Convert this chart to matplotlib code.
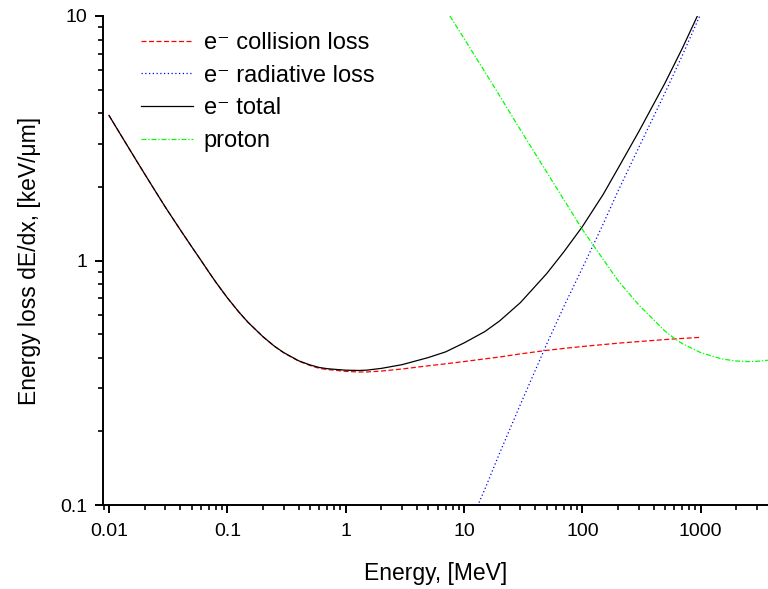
import matplotlib
matplotlib.use("Agg")
import matplotlib.pyplot as plt
from matplotlib.ticker import FixedLocator, FixedFormatter, LogLocator, NullFormatter

plt.rcParams["font.family"] = ["Liberation Sans", "DejaVu Sans"]

# electron energy grid, MeV
e_energy = [0.01, 0.0125, 0.015, 0.0175, 0.02, 0.025, 0.03, 0.04, 0.05, 0.06,
            0.07, 0.08, 0.1, 0.125, 0.15, 0.2, 0.25, 0.3, 0.4, 0.5, 0.6, 0.7,
            0.8, 1, 1.3, 1.5, 2, 3, 5, 7, 10, 15, 20, 30, 50, 70, 100, 150,
            200, 300, 500, 700, 1000]
# collision loss, keV/um
e_collision = [3.92, 3.28, 2.837, 2.511, 2.261, 1.90, 1.651, 1.336, 1.138, 1.0,
               0.895, 0.815, 0.704, 0.616, 0.558, 0.488, 0.446, 0.419, 0.388,
               0.372, 0.362, 0.358, 0.356, 0.352, 0.350, 0.350, 0.353, 0.360,
               0.371, 0.378, 0.386, 0.396, 0.403, 0.415, 0.429, 0.437, 0.445,
               0.453, 0.459, 0.466, 0.475, 0.480, 0.485]
# total loss, keV/um
e_total = [3.92, 3.28, 2.837, 2.511, 2.261, 1.90, 1.651, 1.336, 1.138, 1.0,
           0.895, 0.815, 0.704, 0.616, 0.558, 0.488, 0.446, 0.420, 0.389,
           0.374, 0.365, 0.361, 0.359, 0.356, 0.355, 0.356, 0.362, 0.375,
           0.401, 0.423, 0.460, 0.512, 0.566, 0.673, 0.884, 1.087, 1.375,
           1.863, 2.379, 3.366, 5.325, 7.38, 10.685]

# radiative loss (only where it shows above 0.1)
rad_energy = [10, 15, 20, 30, 50, 70, 100, 150, 200, 300, 500, 700, 1000]
e_radiative = [0.074, 0.116, 0.163, 0.258, 0.455, 0.65, 0.93, 1.41, 1.92, 2.9,
               4.85, 6.9, 10.2]

# proton
p_energy = [7.6, 10, 15, 20, 30, 40, 50, 70, 100, 150, 200, 300, 400, 500,
            600, 700, 1000, 1500, 2000, 2500, 3000, 3700]
p_loss = [10.0, 8.1, 5.91, 4.72, 3.42, 2.735, 2.30, 1.769, 1.34, 1.011, 0.828,
          0.658, 0.573, 0.514, 0.480, 0.457, 0.420, 0.396, 0.388, 0.386, 0.387,
          0.391]

x_ticks = [0.01, 0.1, 1, 10, 100, 1000]
x_ticklabels = ["0.01", "0.1", "1", "10", "100", "1000"]
y_ticks = [0.1, 1, 10]
y_ticklabels = ["0.1", "1", "10"]

fig = plt.figure(figsize=(7.68, 5.89), dpi=100)
ax = fig.add_axes([103 / 768, 1 - 505 / 589, 1 - 103 / 768, (505 - 16) / 589])

ax.plot(e_energy, e_collision, color="#ff0000", lw=0.9, ls=(0, (4, 2)),
        label="e\u207b collision loss")
ax.plot(rad_energy, e_radiative, color="#0000ff", lw=0.9, ls=(0, (1, 2)),
        label="e\u207b radiative loss")
ax.plot(e_energy, e_total, color="black", lw=0.9, label="e\u207b total")
ax.plot(p_energy, p_loss, color="#00ff00", lw=0.9, ls=(0, (4, 1.5, 1, 1.5)),
        label="proton")

ax.set_xscale("log")
ax.set_yscale("log")
ax.set_xlim(0.0089, 3707)
ax.set_ylim(0.1, 10)

ax.xaxis.set_major_locator(FixedLocator(x_ticks))
ax.xaxis.set_major_formatter(FixedFormatter(x_ticklabels))
ax.yaxis.set_major_locator(FixedLocator(y_ticks))
ax.yaxis.set_major_formatter(FixedFormatter(y_ticklabels))
ax.xaxis.set_minor_locator(LogLocator(base=10, subs=range(2, 10), numticks=20))
ax.yaxis.set_minor_locator(LogLocator(base=10, subs=range(2, 10), numticks=20))
ax.xaxis.set_minor_formatter(NullFormatter())
ax.yaxis.set_minor_formatter(NullFormatter())

for side in ("top", "right"):
    ax.spines[side].set_visible(False)
for side in ("left", "bottom"):
    ax.spines[side].set_linewidth(1.4)
ax.tick_params(which="major", direction="out", length=6, width=1.4, labelsize=14)
ax.tick_params(axis="x", which="major", pad=7)
ax.tick_params(axis="y", which="major", pad=5)
ax.tick_params(which="minor", direction="out", length=3.5, width=1.2)

ax.set_xlabel("Energy, [MeV]", fontsize=16.5, labelpad=16)
ax.set_ylabel("Energy loss dE/dx, [keV/\u03bcm]", fontsize=16.5, labelpad=14)

ax.legend(loc="upper left", bbox_to_anchor=(141 / 768, 1 - 32 / 589),
          bbox_transform=fig.transFigure, frameon=False, fontsize=17,
          handlelength=2.2, handletextpad=0.45, labelspacing=0.45,
          borderaxespad=0, borderpad=0)

fig.savefig("out.png", dpi=100)
